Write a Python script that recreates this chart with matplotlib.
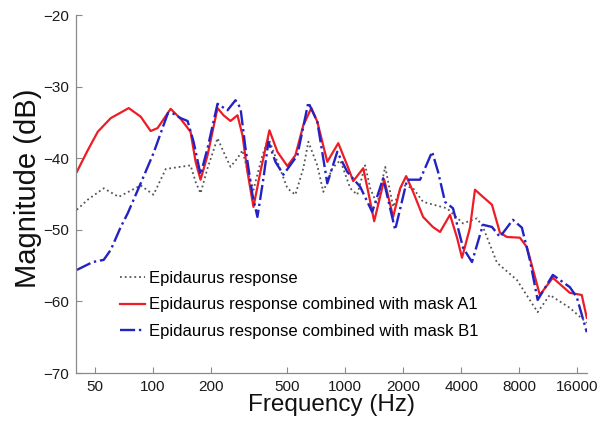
import matplotlib
matplotlib.use("Agg")
import matplotlib.pyplot as plt

plt.rcParams['font.family'] = ['Liberation Sans', 'DejaVu Sans']

# Epidaurus response (grey dotted)
freq_epi = [40.4, 46, 55.7, 66.6, 86.7, 101, 117, 139.7, 157.3, 167.1, 177.3, 192.7, 217.2,
            233.3, 253.6, 275.7, 292.7, 314.4, 333.7, 371.4, 399, 444.3, 500.6, 550.8, 605.8,
            643.1, 715.9, 769.2, 856.3, 942.3, 1062, 1154, 1269, 1348, 1465, 1612, 1773, 1974,
            2251, 2536, 3377, 4087, 4830, 5188, 6135, 7780, 9976, 11530, 14650, 17950]
db_epi = [-47.2, -45.8, -44.2, -45.4, -43.8, -45.1, -41.5, -41.2, -41.0, -43.3, -44.9, -41.4,
          -37.2, -39.1, -41.2, -40.0, -38.9, -42.3, -44.4, -39.6, -37.2, -40.5, -44.2, -45.1,
          -41.4, -37.7, -41.0, -44.7, -41.4, -40.3, -44.2, -45.1, -41.0, -44.2, -46.5, -41.2,
          -46.8, -43.7, -44.2, -46.1, -47.0, -49.1, -48.4, -49.6, -54.6, -57.0, -61.5, -59.1,
          -60.9, -63.0]

# Combined with mask A1 (red solid)
freq_a1 = [40.4, 46, 51.9, 60.6, 75.1, 86.7, 97.6, 106, 124, 139.7, 157.3, 167.1, 177.3, 192.7,
           217.2, 233.3, 253.6, 275.7, 292.7, 310.7, 333.7, 362.6, 403.9, 444.3, 500.6, 550.8,
           605.8, 666.5, 715.9, 806.7, 920, 1024, 1100, 1240, 1316, 1413, 1593, 1773, 1928,
           2071, 2251, 2536, 2850, 3106, 3499, 3805, 4038, 4443, 4716, 5188, 5777, 6355, 6909,
           8066, 8770, 10240, 11960, 14650, 16900, 17950]
db_a1 = [-41.9, -38.9, -36.3, -34.4, -33.0, -34.2, -36.2, -35.8, -33.1, -34.5, -36.3, -40.5,
         -43.0, -39.6, -33.0, -34.0, -34.8, -34.0, -36.8, -41.9, -46.8, -41.9, -36.1, -39.1,
         -41.1, -39.6, -35.4, -33.0, -34.9, -40.5, -37.9, -41.0, -43.2, -41.4, -44.7, -48.8,
         -43.0, -48.2, -44.2, -42.5, -44.7, -48.2, -49.6, -50.3, -47.9, -51.1, -53.9, -49.7,
         -44.4, -45.4, -46.5, -50.4, -51.0, -51.1, -52.4, -59.1, -56.7, -58.8, -59.1, -62.3]

# Combined with mask B1 (blue dash-dot)
freq_b1 = [40.4, 48.9, 55.7, 60.6, 68.3, 74.2, 86.7, 101, 120, 128.5, 139.7, 151.8, 163.1,
           177.3, 192.7, 217.2, 244.7, 269.2, 285.8, 303.4, 329.7, 349.9, 376, 399, 433.9,
           477.4, 564, 643.1, 715.9, 806.7, 908.9, 1024, 1196, 1380, 1573, 1816, 2095, 2447,
           2824, 3033, 3297, 3627, 4087, 4549, 5188, 5777, 6355, 7418, 8260, 9087, 9976,
           11960, 14650, 15920, 17950]
db_b1 = [-55.6, -54.5, -54.2, -52.8, -49.6, -47.7, -43.5, -39.3, -33.7, -33.8, -34.4, -34.8,
         -37.7, -42.3, -38.6, -32.4, -33.3, -31.9, -33.0, -38.6, -45.1, -48.2, -42.8, -37.7,
         -40.5, -42.3, -39.6, -32.2, -34.9, -43.5, -39.1, -41.9, -44.0, -47.5, -42.8, -50.0,
         -43.0, -43.0, -39.1, -41.9, -46.1, -47.0, -52.5, -54.5, -49.3, -49.6, -51.0, -48.6,
         -49.7, -54.2, -59.8, -56.3, -58.0, -59.4, -64.3]

labels = ["Epidaurus response",
          "Epidaurus response combined with mask A1",
          "Epidaurus response combined with mask B1"]
xticks = [50, 100, 200, 500, 1000, 2000, 4000, 8000, 16000]
yticks = [-70, -60, -50, -40, -30, -20]

fig = plt.figure(figsize=(6.15, 4.28), dpi=100)
ax = fig.add_axes([0.1236, 0.1285, 0.8309, 0.8364])

ax.plot(freq_epi, db_epi, color='#555555', lw=1.3, ls=':', label=labels[0])
ax.plot(freq_a1, db_a1, color='#ee1c25', lw=1.6, ls='-', label=labels[1])
ax.plot(freq_b1, db_b1, color='#2323c4', lw=1.7, ls='-.', label=labels[2])

ax.set_xscale('log')
ax.set_xlim(40, 18000)
ax.set_ylim(-70, -20)
ax.set_xticks(xticks)
ax.set_xticklabels([str(t) for t in xticks])
ax.xaxis.set_minor_locator(matplotlib.ticker.NullLocator())
ax.set_yticks(yticks)

for s in ['top', 'right']:
    ax.spines[s].set_visible(False)
for s in ['left', 'bottom']:
    ax.spines[s].set_color('#8a8a8a')
    ax.spines[s].set_linewidth(0.9)
ax.tick_params(direction='in', length=4, width=0.8, color='#8a8a8a',
               labelsize=11, labelcolor='#1a1a1a', pad=5)

ax.set_xlabel('Frequency (Hz)', fontsize=17.5, color='#111111')
ax.set_ylabel('Magnitude (dB)', fontsize=21, color='#111111')
ax.xaxis.set_label_coords(0.5, -0.06)
ax.yaxis.set_label_coords(-0.0665, 0.515)

leg = ax.legend(loc='upper left', bbox_to_anchor=(120/615, 1 - 271/428),
                bbox_transform=fig.transFigure, frameon=False, fontsize=12,
                handlelength=1.5, handletextpad=0.25, labelspacing=0.68,
                borderpad=0, borderaxespad=0)

fig.savefig('out.png', dpi=100)
